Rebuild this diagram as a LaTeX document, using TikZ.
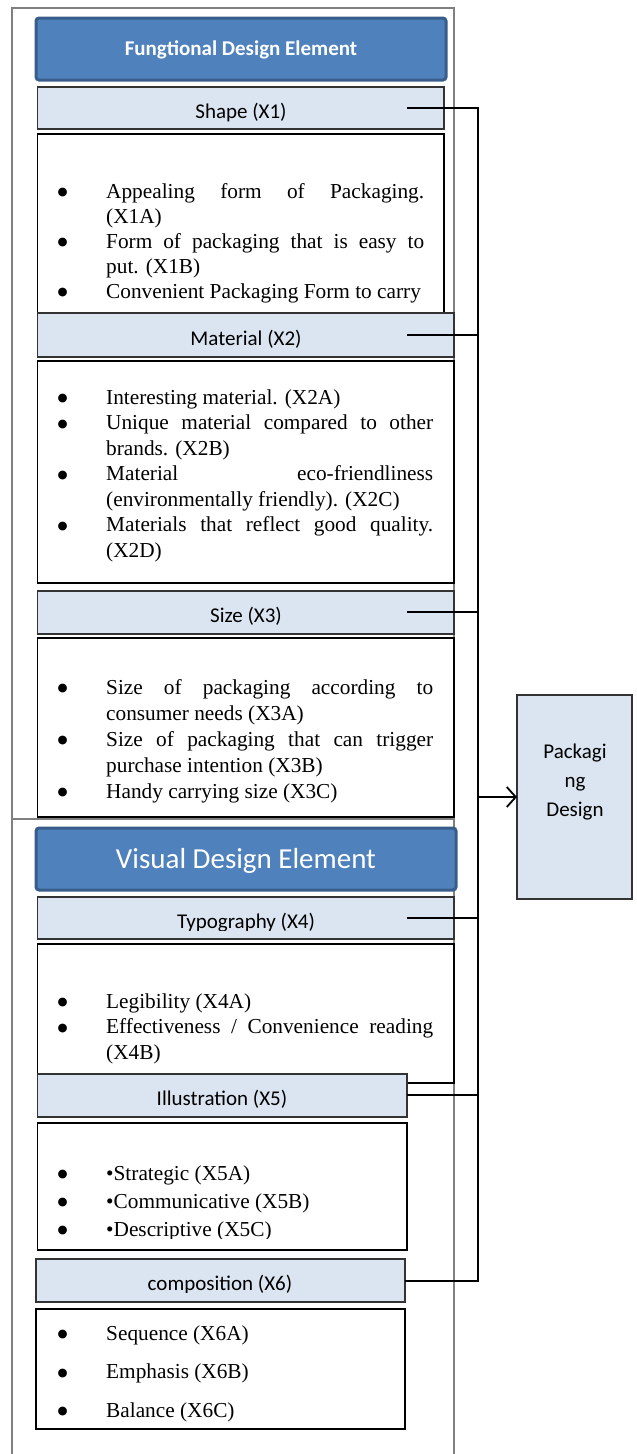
\documentclass[tikz,border=0pt]{standalone}
\usepackage{fontspec}
\setmainfont{Liberation Serif}
\newfontfamily\calfont{Carlito}
\newfontfamily\symfont{DejaVu Sans}
\usetikzlibrary{arrows.meta}
\definecolor{hdrfill}{HTML}{4F81BD}
\definecolor{hdrline}{HTML}{385D8A}
\definecolor{lblfill}{HTML}{DBE5F1}
\definecolor{framegray}{HTML}{808080}
\newdimen\txtw
\newcommand\bulletmark{\raisebox{2.5pt}{\symfont\fontsize{11.5}{12}\selectfont ●}}
\newcommand\itemN[1]{\hbox to \hsize{\hskip 1.5pt\hbox to 48.5pt{\bulletmark\hss}#1\hss}}
\newcommand\itemJ[1]{\hbox to \hsize{\hskip 1.5pt\hbox to 48.5pt{\bulletmark\hss}\makebox[\txtw][s]{#1}\hss}}
\newcommand\contN[1]{\hbox to \hsize{\hskip 50pt #1\hss}}
\newcommand\listsetup[2]{\hsize=420pt\txtw=#1\baselineskip=#2\lineskiplimit=-100pt\lineskip=0pt}
\begin{document}
\begin{tikzpicture}[x=1pt,y=-1pt,
  hdr/.style={draw=hdrline, line width=3pt, fill=hdrfill, rounded corners=3pt, anchor=north west, inner sep=0pt, outer sep=0pt},
  lbl/.style={draw=black!80, line width=1.4pt, fill=lblfill, anchor=north west, inner sep=0pt, outer sep=0pt},
  cbox/.style={draw=black, line width=1.3pt, fill=white, anchor=north west, inner sep=0pt, outer sep=0pt},
  ltxt/.style={font=\calfont\fontsize{21}{25}\selectfont, anchor=base, inner sep=0pt},
  ctext/.style={font=\fontsize{21.3}{25.5}\selectfont, anchor=base west, inner sep=0pt},
  conn/.style={line width=1.8pt, black, line join=miter},
  framel/.style={framegray, line width=1.5pt}]
\useasboundingbox (0,0) rectangle (637,1454);
% outer frame
\draw[framel] (12,1460) -- (12,8) -- (454,8) -- (454,1460);
\draw[framel] (12,819) -- (454,819);
% functional header
\node[hdr, minimum width=410, minimum height=62] (fde) at (36,18) {};
\node[font=\calfont\bfseries\fontsize{21}{25}\selectfont, text=white, anchor=base, inner sep=0pt] (fdeT) at (241,55) {Fungtional Design Element};
% shape
\node[lbl, minimum width=406.5, minimum height=42] (shape) at (37.5,87) {};
\node[ltxt] (shapeT) at (241,118) {Shape (X1)};
\node[cbox, minimum width=406.5, minimum height=200] (c1) at (37.5,134) {};
\node[ctext] (c1t) at (56,198) {\vtop{\listsetup{318pt}{25pt}
  \itemJ{Appealing form of Packaging.}
  \contN{(X1A)}
  \itemJ{Form of packaging that is easy to}
  \contN{put. (X1B)}
  \itemN{Convenient Packaging Form to carry}}};
% material
\node[lbl, minimum width=416.5, minimum height=44] (mat) at (37.5,313) {};
\node[ltxt] (matT) at (246,345) {Material (X2)};
\node[cbox, minimum width=416.5, minimum height=222] (c2) at (37.5,361) {};
\node[ctext] (c2t) at (56,404) {\vtop{\listsetup{327pt}{25.5pt}
  \itemN{Interesting material. (X2A)}
  \itemJ{Unique material compared to other}
  \contN{brands. (X2B)}
  \itemJ{Material eco-friendliness}
  \contN{(environmentally friendly). (X2C)}
  \itemJ{Materials that reflect good quality.}
  \contN{(X2D)}}};
% size
\node[lbl, minimum width=416.5, minimum height=43] (size) at (37.5,591) {};
\node[ltxt] (sizeT) at (246,622) {Size (X3)};
\node[cbox, minimum width=416.5, minimum height=179] (c3) at (37.5,638) {};
\node[ctext] (c3t) at (56,694) {\vtop{\listsetup{327pt}{26pt}
  \itemJ{Size of packaging according to}
  \contN{consumer needs (X3A)}
  \itemJ{Size of packaging that can trigger}
  \contN{purchase intention (X3B)}
  \itemN{Handy carrying size (X3C)}}};
% visual header
\node[hdr, minimum width=420, minimum height=62] (vde) at (36,828) {};
\node[font=\calfont\fontsize{29}{33}\selectfont, text=white, anchor=base, inner sep=0pt] (vdeT) at (246,868) {Visual Design Element};
% typography
\node[lbl, minimum width=416.5, minimum height=42] (typo) at (37.5,897) {};
\begin{scope}
\clip (37.5,897) rectangle (454,930);
\node[ltxt] (typoT) at (246,928) {Typography (X4)};
\end{scope}
\node[cbox, minimum width=416.5, minimum height=139] (c4) at (37.5,944) {};
\node[ctext] (c4t) at (56,1008) {\vtop{\listsetup{327pt}{25.5pt}
  \itemN{Legibility (X4A)}
  \itemJ{Effectiveness / Convenience reading}
  \contN{(X4B)}}};
% illustration
\node[lbl, minimum width=369.5, minimum height=43] (illu) at (37.5,1074) {};
\node[ltxt] (illuT) at (222,1105) {Illustration (X5)};
\node[cbox, minimum width=369.5, minimum height=127] (c5) at (37.5,1123) {};
\begin{scope}
\clip (37.5,1123) rectangle (407,1238);
\node[ctext] (c5t) at (56,1180) {\vtop{\listsetup{300pt}{28pt}
  \itemN{•Strategic (X5A)}
  \itemN{•Communicative (X5B)}
  \itemN{•Descriptive (X5C)}}};
\end{scope}
% composition
\node[lbl, minimum width=369, minimum height=43] (comp) at (36,1259) {};
\begin{scope}
\clip (36,1259) rectangle (405,1292);
\node[ltxt] (compT) at (220,1290.5) {composition (X6)};
\end{scope}
\node[cbox, minimum width=369, minimum height=120] (c6) at (36,1309) {};
\node[ctext] (c6t) at (56,1340) {\vtop{\listsetup{300pt}{38.5pt}
  \itemN{Sequence (X6A)}
  \itemN{Emphasis (X6B)}
  \itemN{Balance (X6C)}}};
% packaging design
\node[lbl, minimum width=115, minimum height=204] (pack) at (517,695) {};
\node[font=\calfont\fontsize{21}{29}\selectfont, align=center, inner sep=0pt] (packT) at (575,782) {Packagi\\ng\\Design};
% connectors
\coordinate (bus) at (478,0);
\coordinate (e1) at (407,108);
\coordinate (e2) at (407,335);
\coordinate (e3) at (407,612);
\coordinate (e4) at (407,918);
\coordinate (e5) at (407,1095);
\coordinate (e6) at (405,1281);
\coordinate (ab) at (478,797);
\draw[conn] (e1) -- (e1 -| bus) -- (e6 -| bus) -- (e6);
\draw[conn] (e2) -- (e2 -| bus);
\draw[conn] (e3) -- (e3 -| bus);
\draw[conn] (e4) -- (e4 -| bus);
\draw[conn] (e5) -- (e5 -| bus);
\draw[conn, -{Straight Barb[length=9pt,width=20pt,line width=1.8pt]}] (ab) -- (pack.west |- ab);
\end{tikzpicture}
\end{document}
